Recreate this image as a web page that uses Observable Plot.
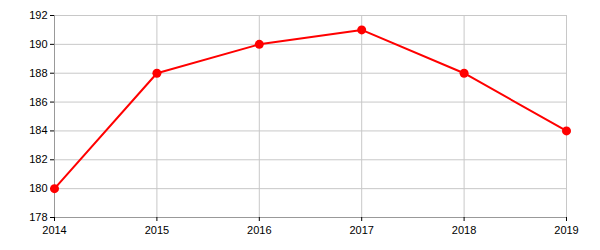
<!DOCTYPE html>
<html><head><meta charset="utf-8">
<script src="https://cdn.jsdelivr.net/npm/d3@7"></script>
<script src="https://cdn.jsdelivr.net/npm/@observablehq/plot@0.6"></script>
<style>body{margin:0;background:#fff}</style>
</head><body><div id="chart"></div>
<script>
const years = [2014, 2015, 2016, 2017, 2018, 2019];
const values = [180, 188, 190, 191, 188, 184];
const yTicks = [178, 180, 182, 184, 186, 188, 190, 192];
const data = years.map((y, i) => ({year: y, value: values[i]}));
const chart = Plot.plot({
  width: 600, height: 250,
  marginLeft: 54, marginRight: 34, marginTop: 15, marginBottom: 33,
  style: {fontFamily: "Liberation Sans, Arial, sans-serif", fontSize: "11px", color: "#000", background: "#fff"},
  x: {domain: [2014, 2019], ticks: years, tickFormat: d => String(d), label: null},
  y: {domain: [178, 192], ticks: yTicks, label: null},
  marks: [
    Plot.gridX(years, {stroke: "#c8c8c8", strokeOpacity: 1}),
    Plot.gridY(yTicks, {stroke: "#c8c8c8", strokeOpacity: 1}),
    Plot.ruleX([2014], {stroke: "#999"}),
    Plot.ruleY([178], {stroke: "#999"}),
    Plot.axisX(years, {tickSize: 4, tickPadding: 5, tickFormat: d => String(d), label: null, stroke: "#000"}),
    Plot.axisY(yTicks, {tickSize: 4, tickPadding: 3, label: null, stroke: "#000"}),
    Plot.line(data, {x: "year", y: "value", stroke: "#ff0000", strokeWidth: 2}),
    Plot.dot(data, {x: "year", y: "value", fill: "#ff0000", r: 4.5})
  ]
});
document.getElementById("chart").append(chart);
</script></body></html>
